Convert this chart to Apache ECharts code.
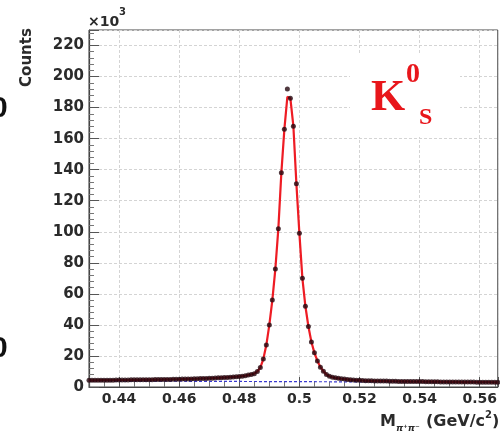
<!DOCTYPE html>
<html>
<head>
<meta charset="utf-8">
<script src="https://cdn.jsdelivr.net/npm/echarts@6/dist/echarts.min.js"></script>
<style>
html, body { margin: 0; padding: 0; background: #fff; }
#chart { width: 500px; height: 432px; }
</style>
</head>
<body>
<div id="chart"></div>
<script>
// bin centres start at massLo, one bin per binWidth (GeV/c^2)
const massLo = 0.430;
const binWidth = 0.001;

// entries per bin, in units of 10^3
const counts = [
    4.3, 4.3, 4.3, 4.3, 4.4, 4.4, 4.4, 4.4, 4.4, 4.5,
    4.5, 4.5, 4.5, 4.5, 4.6, 4.6, 4.6, 4.6, 4.7, 4.7,
    4.7, 4.7, 4.8, 4.8, 4.8, 4.9, 4.9, 4.9, 5.0, 5.0,
    5.0, 5.1, 5.1, 5.2, 5.2, 5.3, 5.3, 5.4, 5.5, 5.5,
    5.6, 5.7, 5.8, 5.9, 6.0, 6.1, 6.2, 6.3, 6.5, 6.6,
    6.8, 7.0, 7.3, 7.7, 8.1, 8.6, 10.0, 12.5, 18, 27,
    40, 56, 76, 102, 138, 166, 192, 186, 168, 131,
    99, 70, 52, 39, 29, 22, 16.8, 12.8, 10.2, 8.0,
    6.9, 6.3, 5.9, 5.6, 5.3, 5.1, 4.9, 4.7, 4.5, 4.4,
    4.3, 4.2, 4.1, 4.0, 4.0, 3.9, 3.9, 3.8, 3.8, 3.8,
    3.7, 3.7, 3.7, 3.6, 3.6, 3.6, 3.6, 3.5, 3.5, 3.5,
    3.5, 3.5, 3.4, 3.4, 3.4, 3.4, 3.4, 3.3, 3.3, 3.3,
    3.3, 3.3, 3.3, 3.2, 3.2, 3.2, 3.2, 3.2, 3.2, 3.1,
    3.1, 3.1, 3.1, 3.1, 3.0, 3.0, 3.0
];

// fitted signal + background, same bins
const fitCounts = [
    4.3, 4.3, 4.3, 4.3, 4.4, 4.4, 4.4, 4.4, 4.4, 4.5,
    4.5, 4.5, 4.5, 4.5, 4.6, 4.6, 4.6, 4.6, 4.7, 4.7,
    4.7, 4.7, 4.8, 4.8, 4.8, 4.9, 4.9, 4.9, 5.0, 5.0,
    5.0, 5.1, 5.1, 5.2, 5.2, 5.3, 5.3, 5.4, 5.5, 5.5,
    5.6, 5.7, 5.8, 5.9, 6.0, 6.1, 6.2, 6.3, 6.5, 6.6,
    6.8, 7.0, 7.3, 7.7, 8.1, 8.6, 10.0, 12.5, 18, 27,
    40, 56, 76, 102, 138, 166, 187, 186, 168, 131,
    99, 70, 52, 39, 29, 22, 16.8, 12.8, 10.2, 8.0,
    6.9, 6.3, 5.9, 5.6, 5.3, 5.1, 4.9, 4.7, 4.5, 4.4,
    4.3, 4.2, 4.1, 4.0, 4.0, 3.9, 3.9, 3.8, 3.8, 3.8,
    3.7, 3.7, 3.7, 3.6, 3.6, 3.6, 3.6, 3.5, 3.5, 3.5,
    3.5, 3.5, 3.4, 3.4, 3.4, 3.4, 3.4, 3.3, 3.3, 3.3,
    3.3, 3.3, 3.3, 3.2, 3.2, 3.2, 3.2, 3.2, 3.2, 3.1,
    3.1, 3.1, 3.1, 3.1, 3.0, 3.0, 3.0
];

// background component of the fit
const bgMass = [0.430, 0.566];
const bgCounts = [3.9, 3.0];

const labelFont = { color: '#2b2b2b', fontFamily: 'DejaVu Sans', fontWeight: 'bold' };

const chart = echarts.init(document.getElementById('chart'));

const binMass = i => +(massLo + i * binWidth).toFixed(4);
const dataPts = counts.map((c, i) => [binMass(i), c]);
const fitPts = fitCounts.map((c, i) => [binMass(i), c]);
const bgPts = bgMass.map((m, i) => [m, bgCounts[i]]);

chart.setOption({
    animation: false,
    grid: {
        left: 89, right: -2, top: 30, bottom: 45,
        show: true, borderColor: '#444', borderWidth: 1
    },
    xAxis: {
        type: 'value',
        min: 0.43,
        max: 0.566,
        splitNumber: 7,
        axisLine: { show: true, lineStyle: { color: '#444', width: 1.2 } },
        axisTick: { inside: true, length: 10, lineStyle: { color: '#555' } },
        minorTick: { show: true, splitNumber: 4, length: 5, lineStyle: { color: '#777' } },
        axisLabel: Object.assign({ showMinLabel: false, showMaxLabel: false, margin: 5, fontSize: 14 }, labelFont),
        splitLine: { show: true, lineStyle: { color: '#d4d4d4', type: [3, 2] } }
    },
    yAxis: {
        type: 'value',
        min: 0,
        max: 230,
        interval: 20,
        axisLine: { show: true, lineStyle: { color: '#444', width: 1.2 } },
        axisTick: { inside: true, length: 10, lineStyle: { color: '#555' } },
        minorTick: { show: true, splitNumber: 5, length: 5, lineStyle: { color: '#777' } },
        axisLabel: Object.assign({ showMaxLabel: false, margin: 5, fontSize: 15 }, labelFont),
        splitLine: { show: true, lineStyle: { color: '#d4d4d4', type: [3, 2] } }
    },
    series: [
        {
            name: 'background',
            type: 'line',
            data: bgPts,
            showSymbol: false,
            lineStyle: { color: '#3a3ad0', width: 1.2, type: [3, 2] },
            z: 1
        },
        {
            name: 'fit',
            type: 'line',
            data: fitPts,
            showSymbol: false,
            lineStyle: { color: '#ee1c24', width: 2.2 },
            z: 2
        },
        {
            name: 'data',
            type: 'scatter',
            data: dataPts,
            symbolSize: 5,
            itemStyle: { color: '#24080f' },
            z: 3
        }
    ],
    graphic: [
        { type: 'rect', shape: { x: 350, y: 55, width: 110, height: 82 }, style: { fill: '#fff' }, z: 10 },
        { type: 'text', z: 11, style: { text: 'K', x: 371, y: 99, verticalAlign: 'middle', font: 'bold 44px "Liberation Serif"', fill: '#e8161b' } },
        { type: 'text', z: 11, style: { text: '0', x: 406, y: 75, verticalAlign: 'middle', font: 'bold 28px "Liberation Serif"', fill: '#e8161b' } },
        { type: 'text', z: 11, style: { text: 'S', x: 419, y: 118, verticalAlign: 'middle', font: 'bold 24px "Liberation Serif"', fill: '#e8161b' } },
        { type: 'text', z: 11, x: 27.5, y: 57.5, rotation: Math.PI / 2, style: { text: 'Counts', align: 'center', verticalAlign: 'middle', font: 'bold 15px "DejaVu Sans"', fill: '#2b2b2b' } },
        { type: 'text', z: 11, style: { text: '×10', x: 88, y: 22, verticalAlign: 'middle', font: 'bold 14px "DejaVu Sans"', fill: '#2b2b2b' } },
        { type: 'text', z: 11, style: { text: '3', x: 119, y: 12, verticalAlign: 'middle', font: 'bold 10px "DejaVu Sans"', fill: '#2b2b2b' } },
        { type: 'text', z: 11, style: { text: 'M', x: 380, y: 422, verticalAlign: 'middle', font: 'bold 16px "DejaVu Sans"', fill: '#2b2b2b' } },
        { type: 'text', z: 11, style: { text: 'π⁺π⁻', x: 396, y: 429, verticalAlign: 'middle', font: 'italic bold 9px "DejaVu Sans"', fill: '#2b2b2b' } },
        { type: 'text', z: 11, style: { text: '(GeV/c', x: 426, y: 422, verticalAlign: 'middle', font: 'bold 16px "DejaVu Sans"', fill: '#2b2b2b' } },
        { type: 'text', z: 11, style: { text: '2', x: 485, y: 415, verticalAlign: 'middle', font: 'bold 10px "DejaVu Sans"', fill: '#2b2b2b' } },
        { type: 'text', z: 11, style: { text: ')', x: 492, y: 422, verticalAlign: 'middle', font: 'bold 16px "DejaVu Sans"', fill: '#2b2b2b' } },
        { type: 'text', z: 11, style: { text: '0', x: -9, y: 109, verticalAlign: 'middle', font: 'bold 30px "Liberation Sans"', fill: '#111' } },
        { type: 'text', z: 11, style: { text: '0', x: -9, y: 349, verticalAlign: 'middle', font: 'bold 30px "Liberation Sans"', fill: '#111' } }
    ]
});
</script>
</body>
</html>
